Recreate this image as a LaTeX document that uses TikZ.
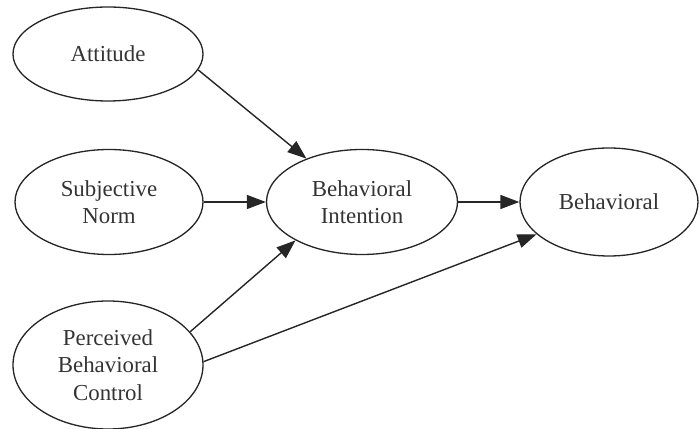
\documentclass[tikz,border=0pt]{standalone}
\usepackage{fontspec}
\setmainfont{Liberation Serif}
\usetikzlibrary{shapes.geometric,arrows.meta}
\tikzset{
  construct/.style={draw=black!85,ellipse,line width=0.75pt,inner sep=0pt,align=center,
    font=\fontsize{13}{15.5}\selectfont,text=black!80},
  path/.style={draw=black!85,line width=0.8pt,-{Triangle[length=0.38cm,width=0.28cm]}}
}
\begin{document}
\begin{tikzpicture}
            \useasboundingbox (0,0) rectangle (14,-8.58);
            \node[construct,minimum width=3.8cm,minimum height=1.88cm] (att) at (2.16,-1.08) {Attitude};
            \node[construct,minimum width=3.76cm,minimum height=2.1cm] (sn) at (2.18,-4.04) {Subjective\\Norm};
            \node[construct,minimum width=3.8cm,minimum height=2.56cm] (pbc) at (2.16,-7.3) {Perceived\\Behavioral\\Control};
            \node[construct,minimum width=3.82cm,minimum height=2.1cm] (bi) at (7.24,-4.04) {Behavioral\\Intention};
            \node[construct,minimum width=3.56cm,minimum height=2.16cm] (beh) at (12.18,-4.04) {Behavioral};
            \draw[path] (att.-10) -- (bi.142);
            \draw[path] (sn.east) -- (bi.west);
            \draw[path] (pbc.22) -- (bi.210);
            \draw[path] (pbc.2) -- (beh.204);
            \draw[path] (bi.east) -- (beh.west);
        \end{tikzpicture}
\end{document}
